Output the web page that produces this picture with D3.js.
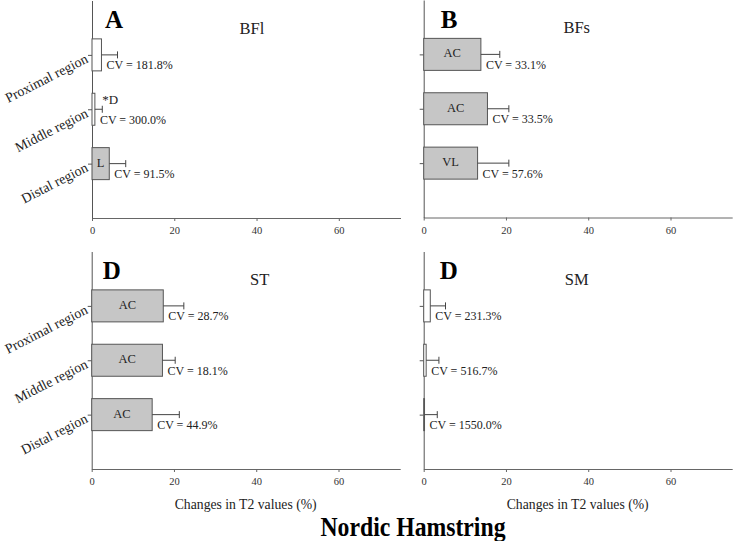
<!DOCTYPE html>
<html><head><meta charset="utf-8">
<script src="https://cdn.jsdelivr.net/npm/d3@7"></script>
<style>
html,body{margin:0;padding:0;background:#fff;}
svg text{font-family:"Liberation Serif","Times New Roman",serif !important;}
</style></head>
<body><svg id="c" width="734" height="541" font-family="Liberation Serif"></svg>
<script>
// ---- data ----
const regions = ["Proximal region", "Middle region", "Distal region"];
const muscles = ["BFl", "BFs", "ST", "SM"];
const panelLetters = ["A", "B", "D", "D"];
const xTicks = [0, 20, 40, 60];
const xMax = 75;

const meanBFl = [2.3, 0.7, 4.2];
const sdBFl   = [3.9, 1.8, 4.0];
const cvBFl   = ["181.8", "300.0", "91.5"];
const sigBFl  = ["", "", "L"];
const noteBFl = ["", "*D", ""];

const meanBFs = [13.9, 15.5, 13.1];
const sdBFs   = [4.6, 5.2, 7.6];
const cvBFs   = ["33.1", "33.5", "57.6"];
const sigBFs  = ["AC", "AC", "VL"];
const noteBFs = ["", "", ""];

const meanST = [17.4, 17.2, 14.7];
const sdST   = [5.0, 3.1, 6.6];
const cvST   = ["28.7", "18.1", "44.9"];
const sigST  = ["AC", "AC", "AC"];
const noteST = ["", "", ""];

const meanSM = [1.6, 0.6, 0.2];
const sdSM   = [3.7, 3.1, 3.1];
const cvSM   = ["231.3", "516.7", "1550.0"];
const sigSM  = ["", "", ""];
const noteSM = ["", "", ""];

const xTitle = "Changes in T2 values (%)";
const mainTitle = "Nordic Hamstring";

const panelData = [
  {mean: meanBFl, sd: sdBFl, cv: cvBFl, sig: sigBFl, note: noteBFl},
  {mean: meanBFs, sd: sdBFs, cv: cvBFs, sig: sigBFs, note: noteBFs},
  {mean: meanST,  sd: sdST,  cv: cvST,  sig: sigST,  note: noteST},
  {mean: meanSM,  sd: sdSM,  cv: cvSM,  sig: sigSM,  note: noteSM}
];

// ---- layout ----
const layout = [
  {x0: 92,    bottom: 218,   left: true,  bottomRow: false, titleDx: 160, letterDx: 13},
  {x0: 423.7, bottom: 217.5, left: false, bottomRow: false, titleDx: 153, letterDx: 17},
  {x0: 91.7,  bottom: 469,   left: true,  bottomRow: true,  titleDx: 168, letterDx: 11},
  {x0: 423.7, bottom: 469,   left: false, bottomRow: true,  titleDx: 153, letterDx: 16}
];
const plotW = 308.5, plotH = 217.5, barH = 32;
const axisCol = "#666", barStroke = "#555", grayFill = "#c6c6c6", textCol = "#222";
const serif = "Liberation Serif";

const svg = d3.select("#c");

layout.forEach((L, pi) => {
  const D = panelData[pi];
  const x = d3.scaleLinear().domain([0, xMax]).range([L.x0, L.x0 + plotW]);
  const y = d3.scaleLinear().domain([0, 4]).range([L.bottom, L.bottom - plotH]);
  const pos = [3, 2, 1];
  const g = svg.append("g").attr("font-family", serif);

  // x axis
  const xa = g.append("g").attr("transform", `translate(0,${L.bottom})`)
    .call(d3.axisBottom(x).tickValues(xTicks).tickSize(3).tickSizeOuter(0));
  xa.attr("font-family", serif);
  xa.select(".domain").attr("stroke", axisCol);
  xa.selectAll(".tick line").attr("stroke", axisCol);
  xa.selectAll(".tick text").attr("fill", "#333").attr("font-size", 10.5)
    .attr("font-family", serif).attr("y", 9);

  // y axis
  const ya = g.append("g").attr("transform", `translate(${L.x0},0)`)
    .call(d3.axisLeft(y).tickValues(pos).tickFormat("").tickSize(4).tickSizeOuter(0));
  ya.select(".domain").attr("stroke", "#555");
  ya.selectAll(".tick line").attr("stroke", "#555");

  if (L.left) {
    g.selectAll("text.ylab").data(regions).enter().append("text")
      .attr("class", "ylab")
      .attr("transform", (d, i) => `translate(${L.x0 - 3},${y(pos[i]) + 7}) rotate(-27)`)
      .attr("text-anchor", "end").attr("font-size", 14).attr("fill", textCol)
      .attr("font-family", serif)
      .text(d => d);
  }

  const rows = regions.map((r, i) => ({i, m: D.mean[i], s: D.sd[i], cv: D.cv[i], sig: D.sig[i], note: D.note[i], c: y(pos[i])}));

  // bars
  g.selectAll("rect.bar").data(rows).enter().append("rect")
    .attr("x", x(0)).attr("y", d => d.c - barH / 2)
    .attr("width", d => x(d.m) - x(0)).attr("height", barH)
    .attr("fill", d => d.sig ? grayFill : "#fff")
    .attr("stroke", barStroke).attr("stroke-width", 1);

  // error bars
  g.selectAll("line.err").data(rows).enter().append("line")
    .attr("x1", d => x(d.m)).attr("x2", d => x(d.m + d.s))
    .attr("y1", d => d.c).attr("y2", d => d.c)
    .attr("stroke", "#444").attr("stroke-width", 1);
  g.selectAll("line.cap").data(rows).enter().append("line")
    .attr("x1", d => x(d.m + d.s)).attr("x2", d => x(d.m + d.s))
    .attr("y1", d => d.c - 3.5).attr("y2", d => d.c + 3.5)
    .attr("stroke", "#444").attr("stroke-width", 1);

  // labels inside bars
  g.selectAll("text.sig").data(rows.filter(d => d.sig)).enter().append("text")
    .attr("x", d => (x(0) + x(d.m)) / 2).attr("y", d => d.c + 3)
    .attr("text-anchor", "middle").attr("font-size", 12.5).attr("fill", textCol)
    .attr("font-family", serif)
    .text(d => d.sig);

  // notes above error bars
  g.selectAll("text.note").data(rows.filter(d => d.note)).enter().append("text")
    .attr("x", d => x(d.m + d.s)).attr("y", d => d.c - 5.5)
    .attr("font-size", 13).attr("fill", textCol).attr("font-family", serif).text(d => d.note);

  // CV labels
  g.selectAll("text.cv").data(rows).enter().append("text")
    .attr("x", d => x(d.m) + 5).attr("y", d => d.c + 14.5)
    .attr("font-size", 12).attr("fill", textCol).attr("font-family", serif)
    .text(d => `CV = ${d.cv}%`);

  // panel letter
  g.append("text").attr("x", L.x0 + L.letterDx).attr("y", L.bottom - 190)
    .attr("font-size", 25).attr("font-weight", "bold").attr("fill", "#000")
    .attr("font-family", serif)
    .text(panelLetters[pi]);

  // muscle title
  g.append("text").attr("x", L.x0 + L.titleDx).attr("y", L.bottom - 184.5)
    .attr("text-anchor", "middle").attr("font-size", 16.5).attr("fill", textCol)
    .attr("font-family", serif)
    .text(muscles[pi]);

  if (L.bottomRow) {
    g.append("text").attr("x", L.x0 + 154).attr("y", L.bottom + 40)
      .attr("text-anchor", "middle").attr("font-size", 13.7).attr("fill", textCol)
      .attr("font-family", serif)
      .text(xTitle);
  }
});

svg.append("text").attr("x", 413).attr("y", 536)
  .attr("text-anchor", "middle").attr("font-size", 27).attr("font-weight", "bold")
  .attr("font-family", serif)
  .attr("textLength", 185).attr("lengthAdjust", "spacingAndGlyphs")
  .attr("fill", "#000").text(mainTitle);
</script>
</body></html>
